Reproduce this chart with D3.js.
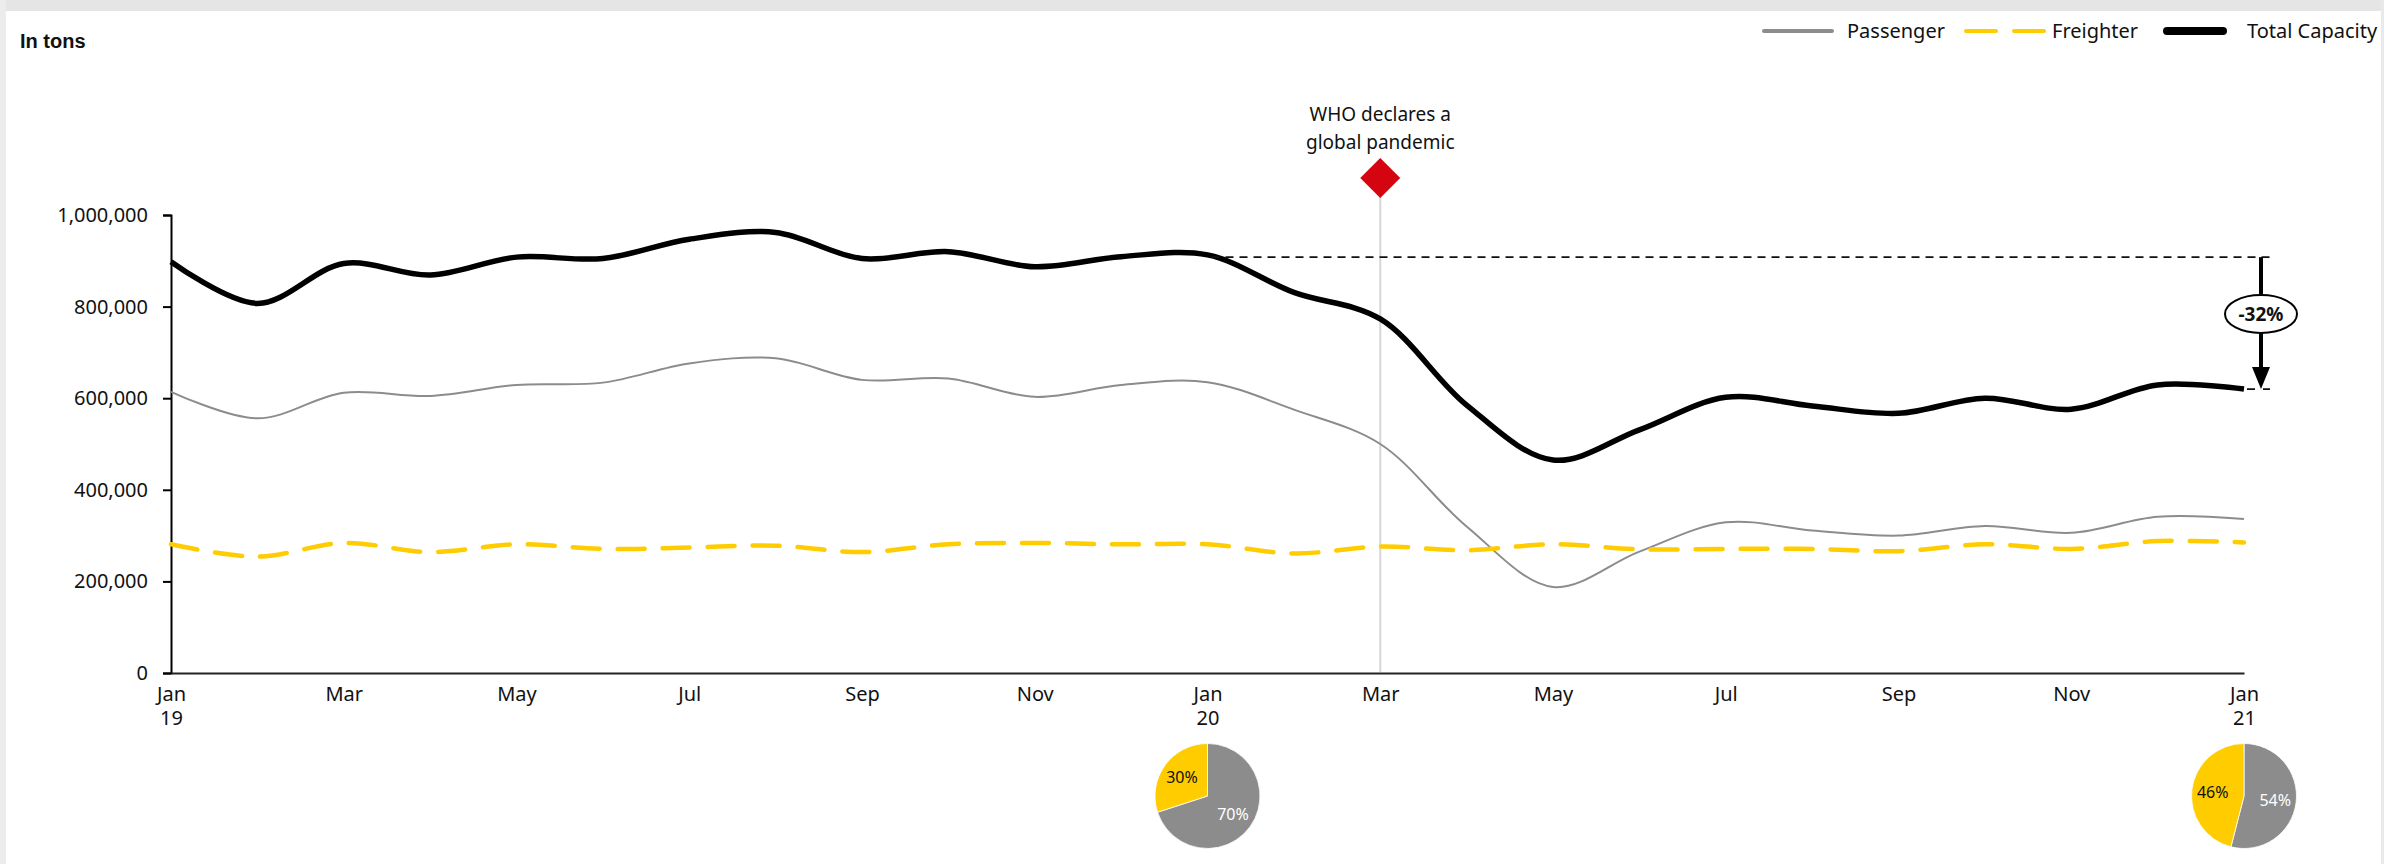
<!DOCTYPE html>
<html>
<head>
<meta charset="utf-8">
<script src="https://cdn.jsdelivr.net/npm/d3@7"></script>
<style>
  html, body { margin: 0; padding: 0; background: #ffffff; }
  svg { display: block; }
  text { font-family: "Noto Sans", "Liberation Sans", Arial, sans-serif; fill: #111; }
</style>
</head>
<body>
<svg id="chart" width="2397" height="864"></svg>
<script>
// ---------- DATA (tons, in thousands) ----------
const months = ["2019-01","2019-02","2019-03","2019-04","2019-05","2019-06","2019-07","2019-08","2019-09","2019-10","2019-11","2019-12",
                "2020-01","2020-02","2020-03","2020-04","2020-05","2020-06","2020-07","2020-08","2020-09","2020-10","2020-11","2020-12",
                "2021-01"];
const passenger = [614,556,612,605,629,634,676,687,640,643,603,629,635,575,500,320,188,265,329,311,300,321,306,341,336];
const freighter = [281,254,284,264,281,271,274,278,264,281,284,281,281,261,276,268,281,270,271,271,266,281,271,288,285];
const totalCapacity = [898,807,894,869,908,905,947,962,905,920,887,909,913,831,773,585,465,531,602,583,567,600,576,629,620];

const yTicks = [0, 200000, 400000, 600000, 800000, 1000000];
const xTickMonths = ["2019-01","2019-03","2019-05","2019-07","2019-09","2019-11","2020-01","2020-03","2020-05","2020-07","2020-09","2020-11","2021-01"];
const xTickLabels = [["Jan","19"],["Mar"],["May"],["Jul"],["Sep"],["Nov"],["Jan","20"],["Mar"],["May"],["Jul"],["Sep"],["Nov"],["Jan","21"]];

const seriesNames = ["Passenger", "Freighter", "Total Capacity"];
const eventMonth = "2020-03";
const eventText = ["WHO declares a", "global pandemic"];
const refMonth = "2020-01";
const refValue = 908;
const changeLabel = "-32%";

const pieMonths = ["2020-01", "2021-01"];
const piePassengerShare = [70, 54];
const pieFreighterShare = [30, 46];

// ---------- SETUP ----------
const svg = d3.select("#chart");
const W = 2397, H = 864;
const colGray = "#8c8c8c", colYellow = "#ffcc00", colBlack = "#000000", colRed = "#d40511";

// frame
svg.append("rect").attr("x", 0).attr("y", 0).attr("width", 2384).attr("height", 11).attr("fill", "#e5e5e5");
svg.append("rect").attr("x", 0).attr("y", 0).attr("width", 6).attr("height", H).attr("fill", "#ececec");
svg.append("rect").attr("x", 2381).attr("y", 0).attr("width", 3).attr("height", H).attr("fill", "#e9e9e9");

const x = d3.scalePoint().domain(months).range([171, 2244]);
const y = d3.scaleLinear().domain([0, 1000000]).range([673, 215]);

// "In tons"
svg.append("text").attr("x", 20).attr("y", 48)
  .style("font-family", "'Liberation Sans', Arial, sans-serif")
  .style("font-weight", "bold").style("font-size", "20px").text("In tons");

// Y axis
const yAxis = d3.axisLeft(y).tickValues(yTicks).tickSize(8).tickPadding(15)
  .tickFormat(d3.format(","));
const gy = svg.append("g").attr("transform", `translate(${x(months[0])},0)`).call(yAxis);
gy.select(".domain").attr("stroke", "#000").attr("stroke-width", 2);
gy.selectAll(".tick line").attr("stroke", "#000").attr("stroke-width", 2);
gy.selectAll(".tick text").style("font-size", "20px").style("font-family", "'Noto Sans', sans-serif").attr("fill", "#111");

// X axis (line + labels)
const xAxis = d3.axisBottom(x).tickValues(xTickMonths).tickSize(0).tickPadding(0).tickFormat("");
const gx = svg.append("g").attr("transform", `translate(0,${y(0)})`).call(xAxis);
gx.select(".domain").attr("stroke", "#222").attr("stroke-width", 2.2);
gx.selectAll(".tick").each(function(d, i) {
  const t = d3.select(this).append("text").attr("text-anchor", "middle").style("font-size", "20px").attr("fill", "#111");
  xTickLabels[i].forEach((s, j) => {
    t.append("tspan").attr("x", 0).attr("y", 28 + j * 24).text(s);
  });
});

// Event vertical line + diamond + text
const ex = x(eventMonth);
svg.append("line").attr("x1", ex).attr("x2", ex).attr("y1", 190).attr("y2", y(0) - 1)
  .attr("stroke", "#d6d6d6").attr("stroke-width", 2);
svg.append("path").attr("d", d3.symbol().type(d3.symbolSquare).size(800)())
  .attr("transform", `translate(${ex},178) rotate(45)`).attr("fill", colRed);
eventText.forEach((s, i) => {
  svg.append("text").attr("x", ex).attr("y", 121 + i * 28).attr("text-anchor", "middle")
    .style("font-size", "19px").text(s);
});

// Lines
const line = d3.line().x((d, i) => x(months[i])).y(d => y(d * 1000)).curve(d3.curveCatmullRom.alpha(0.5));

svg.append("path").datum(passenger).attr("d", line).attr("fill", "none")
  .attr("stroke", colGray).attr("stroke-width", 2);
svg.append("path").datum(freighter).attr("d", line).attr("fill", "none")
  .attr("stroke", colYellow).attr("stroke-width", 4.5).attr("stroke-dasharray", "27,18").attr("stroke-linecap", "round");
svg.append("path").datum(totalCapacity).attr("d", line).attr("fill", "none")
  .attr("stroke", colBlack).attr("stroke-width", 5.5).attr("stroke-linejoin", "round");

// Reference dashed line & arrow
const lastIdx = months.length - 1;
const yRef = y(refValue * 1000);
const yEnd = y(totalCapacity[lastIdx] * 1000);
const ax = x(months[lastIdx]) + 17;
svg.append("line").attr("x1", x(refMonth) + 4).attr("x2", ax + 9).attr("y1", yRef).attr("y2", yRef)
  .attr("stroke", "#111").attr("stroke-width", 1.8).attr("stroke-dasharray", "8,6");
svg.append("line").attr("x1", x(months[lastIdx]) + 3).attr("x2", ax + 9).attr("y1", yEnd).attr("y2", yEnd)
  .attr("stroke", "#111").attr("stroke-width", 1.8).attr("stroke-dasharray", "8,8");
svg.append("line").attr("x1", ax).attr("x2", ax).attr("y1", yRef).attr("y2", yEnd - 18)
  .attr("stroke", "#000").attr("stroke-width", 4);
svg.append("path").attr("d", `M${ax - 9},${yEnd - 22} L${ax + 9},${yEnd - 22} L${ax},${yEnd} Z`).attr("fill", "#000");
const ey = 314;
svg.append("ellipse").attr("cx", ax).attr("cy", ey).attr("rx", 36).attr("ry", 19)
  .attr("fill", "#fff").attr("stroke", "#000").attr("stroke-width", 2);
svg.append("text").attr("x", ax).attr("y", ey + 7).attr("text-anchor", "middle")
  .style("font-weight", "bold").style("font-size", "19px").text(changeLabel);

// Legend
const legendY = 31;
const lg = svg.append("g");
lg.append("line").attr("x1", 1764).attr("x2", 1832).attr("y1", legendY).attr("y2", legendY)
  .attr("stroke", colGray).attr("stroke-width", 4).attr("stroke-linecap", "round");
lg.append("text").attr("x", 1847).attr("y", legendY + 7).style("font-size", "20px").text(seriesNames[0]);
lg.append("line").attr("x1", 1966).attr("x2", 2048).attr("y1", legendY).attr("y2", legendY)
  .attr("stroke", colYellow).attr("stroke-width", 4).attr("stroke-linecap", "round").attr("stroke-dasharray", "30,18");
lg.append("text").attr("x", 2052).attr("y", legendY + 7).style("font-size", "20px").text(seriesNames[1]);
lg.append("line").attr("x1", 2167).attr("x2", 2223).attr("y1", legendY).attr("y2", legendY)
  .attr("stroke", colBlack).attr("stroke-width", 8).attr("stroke-linecap", "round");
lg.append("text").attr("x", 2247).attr("y", legendY + 7).style("font-size", "20px").text(seriesNames[2]);

// Pies
const pie = d3.pie().sort(null).startAngle(0).endAngle(2 * Math.PI);
const R = 52.5;
const arc = d3.arc().innerRadius(0).outerRadius(R);
const labelArc = d3.arc().innerRadius(R * 0.6).outerRadius(R * 0.6);
pieMonths.forEach((m, k) => {
  const g = svg.append("g").attr("transform", `translate(${x(m)},796)`);
  const data = pie([piePassengerShare[k], pieFreighterShare[k]]);
  g.selectAll("path").data(data).join("path").attr("d", arc)
    .attr("fill", (d, i) => i === 0 ? colGray : colYellow)
    .attr("stroke", "#fff").attr("stroke-width", 0.8);
  g.selectAll("text").data(data).join("text")
    .attr("transform", d => `translate(${labelArc.centroid(d)})`)
    .attr("text-anchor", "middle").attr("dy", "0.35em")
    .style("font-size", "16px")
    .style("fill", (d, i) => i === 0 ? "#ffffff" : "#111")
    .text(d => d.data + "%");
});
</script>
</body>
</html>
